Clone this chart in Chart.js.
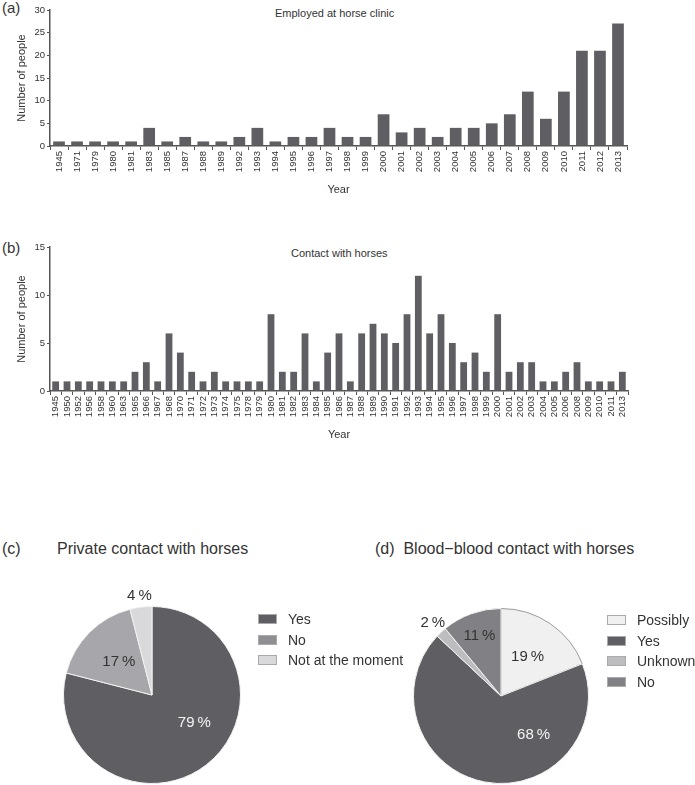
<!DOCTYPE html>
<html>
<head>
<meta charset="utf-8">
<script src="https://cdn.jsdelivr.net/npm/chart.js@4"></script>
<style>
  html, body { margin: 0; padding: 0; background: #fff; overflow: hidden; }
  body { width: 695px; height: 785px; position: relative; font-family: "Liberation Sans", Arial, sans-serif; color: #333; }
  canvas { position: absolute; }
  .txt { position: absolute; white-space: nowrap; line-height: 1; }
  .legend { position: absolute; font-size: 14px; color: #333; }
  .legend div { height: 20.5px; display: flex; align-items: center; }
  .legend span.sw { display: inline-block; width: 19px; height: 10px; margin-right: 11px; border: 1px solid #aaa; box-sizing: border-box; }
</style>
</head>
<body>

<div class="txt" style="left:2px;top:0px;font-size:15px;">(a)</div>
<div class="txt" style="left:275px;top:8px;font-size:11px;">Employed at horse clinic</div>
<canvas id="chartA" width="695" height="200" style="left:0;top:0;"></canvas>

<div class="txt" style="left:2px;top:240px;font-size:15px;">(b)</div>
<div class="txt" style="left:291px;top:248px;font-size:11px;">Contact with horses</div>
<canvas id="chartB" width="695" height="215" style="left:0;top:230px;"></canvas>

<div class="txt" style="left:2px;top:541px;font-size:16px;">(c)</div>
<div class="txt" style="left:57px;top:541px;font-size:16px;">Private contact with horses</div>
<canvas id="chartC" width="240" height="240" style="left:32px;top:575px;"></canvas>
<div class="legend" id="legendC" style="left:258px;top:609px;"></div>

<div class="txt" style="left:375px;top:541px;font-size:16px;">(d)&nbsp;&nbsp;Blood&minus;blood contact with horses</div>
<canvas id="chartD" width="240" height="240" style="left:381px;top:576px;"></canvas>
<div class="legend" id="legendD" style="left:607px;top:610px;"></div>

<script>
// (a) Employed at horse clinic
const yearsA = ['1945','1971','1979','1980','1981','1983','1985','1987','1988','1989','1992','1993','1994','1995','1996','1997','1998','1999','2000','2001','2002','2003','2004','2005','2006','2007','2008','2009','2010','2011','2012','2013'];
const countsA = [1,1,1,1,1,4,1,2,1,1,2,4,1,2,2,4,2,2,7,3,4,2,4,4,5,7,12,6,12,21,21,27];

// (b) Contact with horses
const yearsB = ['1945','1950','1952','1956','1958','1960','1963','1965','1966','1967','1968','1970','1971','1972','1973','1974','1975','1978','1979','1980','1981','1982','1983','1984','1985','1986','1987','1988','1989','1990','1991','1992','1993','1994','1995','1996','1997','1998','1999','2000','2001','2002','2003','2004','2005','2006','2008','2009','2010','2011','2013'];
const countsB = [1,1,1,1,1,1,1,2,3,1,6,4,2,1,2,1,1,1,1,8,2,2,6,1,4,6,1,6,7,6,5,8,12,6,8,5,3,4,2,8,2,3,3,1,1,2,3,1,1,1,2];

// (c) Private contact with horses
const privLabels = ['Yes', 'No', 'Not at the moment'];
const privPct = [79, 17, 4];

// (d) Blood-blood contact with horses
const bloodLabels = ['Possibly', 'Yes', 'Unknown', 'No'];
const bloodPct = [19, 68, 2, 11];

const barColor = '#5f5e63';
const axisColor = '#555';
const fontFam = '"Liberation Sans", Arial, sans-serif';
const narrowFam = '"Liberation Sans Narrow", "Liberation Sans", Arial, sans-serif';

function makeBar(id, labels, values, yMax, pad, xHeight, barPct) {
    return new Chart(document.getElementById(id), {
        type: 'bar',
        data: {
            labels: labels,
            datasets: [{
                data: values,
                backgroundColor: barColor,
                borderWidth: 0,
                barPercentage: barPct,
                categoryPercentage: 1
            }]
        },
        options: {
            responsive: false,
            animation: false,
            devicePixelRatio: 1,
            layout: { padding: pad },
            plugins: { legend: { display: false }, tooltip: { enabled: false } },
            scales: {
                x: {
                    grid: { display: true, drawOnChartArea: false, drawTicks: true, tickLength: 4, color: axisColor, lineWidth: 1 },
                    border: { display: true, color: axisColor, width: 1.5 },
                    ticks: { autoSkip: false, maxRotation: 90, minRotation: 90, padding: 1, color: '#333', font: { family: narrowFam, size: 9.5 } },
                    title: { display: true, text: 'Year', color: '#333', font: { family: fontFam, size: 11 }, padding: { top: 0, bottom: 3 } },
                    afterFit: s => { s.height = xHeight; }
                },
                y: {
                    min: 0,
                    max: yMax,
                    grid: { display: true, drawOnChartArea: false, drawTicks: true, tickLength: 3, color: axisColor, lineWidth: 1 },
                    border: { display: true, color: axisColor, width: 1.5 },
                    ticks: { stepSize: 5, padding: 2, color: '#333', font: { family: fontFam, size: 9.5 } },
                    title: { display: true, text: 'Number of people', color: '#333', font: { family: fontFam, size: 11 }, padding: { top: 15, bottom: 0 } },
                    afterFit: s => { s.width = 50; }
                }
            }
        }
    });
}

makeBar('chartA', yearsA, countsA, 30, { top: 10, right: 68, left: 0, bottom: 0 }, 54, 0.65);
makeBar('chartB', yearsB, countsB, 15, { top: 17, right: 67, left: 0, bottom: 0 }, 54, 0.6);

// percent labels on the pie slices
const pctLabels = {
    id: 'pctLabels',
    afterDatasetsDraw(chart, args, opts) {
        const ctx = chart.ctx;
        const vals = chart.data.datasets[0].data;
        chart.getDatasetMeta(0).data.forEach((arc, i) => {
            const p = opts.place[i];
            const ang = p.angle != null ? p.angle * Math.PI / 180 : (arc.startAngle + arc.endAngle) / 2;
            const r = arc.outerRadius * p.r;
            ctx.save();
            ctx.font = '15px ' + fontFam;
            ctx.fillStyle = p.color;
            ctx.textAlign = 'center';
            ctx.textBaseline = 'middle';
            ctx.fillText(vals[i] + '\u2009%', arc.x + r * Math.cos(ang), arc.y + r * Math.sin(ang));
            ctx.restore();
        });
    }
};

function makePie(id, labels, values, colors, borders, pad, place) {
    return new Chart(document.getElementById(id), {
        type: 'pie',
        data: {
            labels: labels,
            datasets: [{ data: values, backgroundColor: colors, borderColor: borders, borderWidth: 1 }]
        },
        options: {
            responsive: false,
            animation: false,
            devicePixelRatio: 1,
            layout: { padding: pad },
            plugins: { legend: { display: false }, tooltip: { enabled: false }, pctLabels: { place: place } }
        },
        plugins: [pctLabels]
    });
}

function makeLegend(id, labels, colors) {
    const el = document.getElementById(id);
    labels.forEach((l, i) => {
        const row = document.createElement('div');
        row.innerHTML = '<span class="sw" style="background:' + colors[i] + '"></span>' + l;
        el.appendChild(row);
    });
}

const privColors = ['#5f5e63', '#a7a6aa', '#d9d9db'];
makePie('chartC', privLabels, privPct, privColors, ['#f2f2f2', '#f2f2f2', '#f2f2f2'], 31, [
    { angle: 33, r: 0.57, color: '#f4f4f4' },
    { r: 0.53, color: '#333' },
    { r: 1.13, color: '#333' }
]);
makeLegend('legendC', privLabels, ['#5f5e63', '#8f8e92', '#d9d9db']);

const bloodColors = ['#f0f0f0', '#5f5e63', '#bdbdc0', '#818085'];
makePie('chartD', bloodLabels, bloodPct, bloodColors, ['#9a9a9a', '#f2f2f2', '#f2f2f2', '#f2f2f2'], 32, [
    { r: 0.54, color: '#333' },
    { angle: 50, r: 0.58, color: '#f4f4f4' },
    { r: 1.14, color: '#333' },
    { r: 0.73, color: '#333' }
]);
makeLegend('legendD', bloodLabels, bloodColors);
</script>
</body>
</html>
